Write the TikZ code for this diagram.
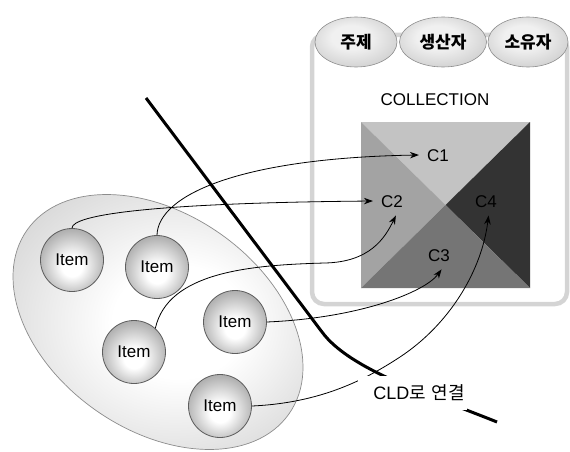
\documentclass[tikz,border=0pt]{standalone}
\usepackage{fontspec}
\setmainfont{Liberation Sans}
\newfontfamily\kr{Noto Sans CJK KR}
\usetikzlibrary{arrows.meta,shapes.geometric}
\definecolor{ellgray}{HTML}{AEAEAE}
\definecolor{ellmid}{HTML}{C8C8C8}
\definecolor{elledge}{HTML}{8C8C8C}
\definecolor{sphlight}{HTML}{B4B4B4}
\definecolor{sphgray}{HTML}{858585}
\definecolor{sphdark}{HTML}{6C6C6C}
\definecolor{sphedge}{HTML}{5E5E5E}
\definecolor{tablight}{HTML}{F0F0F0}
\definecolor{tabgray}{HTML}{ABABAB}
\definecolor{tabedge}{HTML}{8E8E8E}
\definecolor{panelgray}{HTML}{D4D4D4}
\definecolor{qtop}{HTML}{C3C3C3}
\definecolor{qleft}{HTML}{A3A3A3}
\definecolor{qright}{HTML}{333333}
\definecolor{qbottom}{HTML}{757575}
\pgfdeclareradialshading{ellshade}{\pgfpoint{4bp}{0bp}}{color(0bp)=(white); color(10bp)=(white); color(36bp)=(ellmid); color(50bp)=(ellgray)}
\pgfdeclareradialshading{sphshade}{\pgfpoint{0bp}{-6bp}}{color(0bp)=(white); color(8bp)=(white); color(26bp)=(sphlight); color(40bp)=(sphgray); color(50bp)=(sphdark)}
\pgfdeclareradialshading{tabshade}{\pgfpoint{-4bp}{6bp}}{color(0bp)=(tablight); color(12bp)=(tablight); color(50bp)=(tabgray)}
\begin{document}
\begin{tikzpicture}[x=1pt,y=-1pt,
  coll/.style={ellipse, rotate=-35, minimum width=320pt, minimum height=216pt, inner sep=0pt, draw=elledge, line width=0.7pt, shading=ellshade},
  item/.style={circle, minimum size=63pt, inner sep=0pt, draw=sphedge, line width=0.8pt, shading=sphshade, font=\fontsize{17}{19}\selectfont},
  tab/.style={ellipse, minimum height=50pt, inner sep=0pt, draw=tabedge, line width=0.6pt, shading=tabshade, font=\kr\bfseries\fontsize{17}{20}\selectfont},
  panel/.style={draw=panelgray, line width=4.5pt, rounded corners=12pt},
  clab/.style={font=\fontsize{17}{20}\selectfont, inner sep=8pt, text height=12.5pt, text depth=0pt},
  title/.style={font=\fontsize{17}{20}\selectfont, inner sep=2pt},
  conn/.style={draw, line width=0.8pt, -{Stealth[length=9pt,width=6.5pt]}},
  thick/.style={draw, line width=3pt},
  lbl/.style={fill=white, inner xsep=2pt, inner ysep=0pt, text width=105pt, align=right, minimum height=34pt, font=\fontsize{18}{21}\selectfont}
]
\useasboundingbox (0,0) rectangle (570,452);
% group ellipse
\node[coll] (grp) at (158,322) {};
% items
\node[item] (I1) at (72,260) {Item};
\node[item] (I2) at (157,267) {Item};
\node[item] (I3) at (134,352) {Item};
\node[item] (I4) at (235,322) {Item};
\node[item] (I5) at (220,406) {Item};
% panel
\draw[panel] (312,35) rectangle (567,304);
% tabs
\node[tab, minimum width=82pt] (t1) at (356,42) {주제};
\node[tab, minimum width=87pt] (t2) at (443,42) {생산자};
\node[tab, minimum width=80pt] (t3) at (528,42) {소유자};
\node[title] (ct) at (435,100) {COLLECTION};
% quadrant square
\coordinate (qA) at (361,122);
\coordinate (qB) at (530,122);
\coordinate (qC) at (530,288);
\coordinate (qD) at (361,288);
\coordinate (qO) at (445.5,205);
\fill[qtop] (qA) -- (qB) -- (qO) -- cycle;
\fill[qleft] (qA) -- (qO) -- (qD) -- cycle;
\fill[qright] (qB) -- (qC) -- (qO) -- cycle;
\fill[qbottom] (qD) -- (qO) -- (qC) -- cycle;
\node[clab] (C1) at (438,155) {C1};
\node[clab] (C2) at (392,201) {C2};
\node[clab] (C4) at (486,201) {C4};
\node[clab] (C3) at (439,255) {C3};
% connectors
\draw[conn] (I1.north) .. controls (72,215) and (150,203) .. (C2.west);
\draw[conn] (I2.north) .. controls (158,195) and (240,158) .. (C1.west);
\draw[conn] (I3.48) .. controls (168,272) and (250,265) .. (325,263) .. controls (370,262) and (385,238) .. (C2.-75);
\draw[conn] (I4.east) .. controls (360,318) and (425,292) .. (C3.-80);
\draw[conn] (I5.east) .. controls (320,403) and (365,380) .. (400,357) .. controls (450,324) and (482,270) .. (C4.-80);
% thick separator line
\coordinate (s1) at (146,98);
\coordinate (s2) at (322,332);
\coordinate (s3) at (497,422);
\draw[thick] (s1) -- (s2) .. controls (350,370) and (430,395) .. (s3);
% label
\node[lbl] (cld) at (412.5,393) {CLD{\kr 로 연결}};
\end{tikzpicture}
\end{document}
